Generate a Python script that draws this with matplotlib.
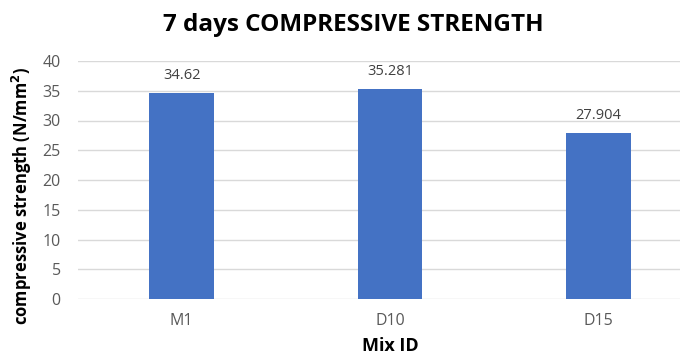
import matplotlib.pyplot as plt
import numpy as np

mixes = ["M1", "D10", "D15"]
strength = [34.62, 35.281, 27.904]
label_texts = ["34.62", "35.281", "27.904"]
yticks = [0, 5, 10, 15, 20, 25, 30, 35, 40]

plt.rcParams["font.family"] = ["Open Sans", "DejaVu Sans"]

fig = plt.figure(figsize=(6.8, 3.56), dpi=100)
# plot area runs past the right edge, like the cropped original
ax = fig.add_axes([77.5 / 680, 57 / 356, 625 / 680, 238 / 356])

x = np.arange(len(mixes))
ax.bar(x, strength, width=0.31, color="#4472C4", zorder=3)
for xi, v, t in zip(x, strength, label_texts):
    ax.annotate(t, (xi, v), xytext=(0, 7), textcoords="offset points",
                ha="center", va="bottom", fontsize=10.5, color="#404040")

ax.set_xlim(-0.5, 2.5)
ax.set_ylim(0, 40)
ax.set_yticks(yticks)
ax.set_xticks(x)
ax.set_xticklabels(mixes)
ax.grid(axis="y", color="#d9d9d9", linewidth=1, zorder=0)
for s in ax.spines.values():
    s.set_visible(False)
ax.tick_params(axis="both", length=0, labelsize=11.5, colors="#595959")
ax.tick_params(axis="y", pad=12)
ax.tick_params(axis="x", pad=10)

fig.text(22 / 680, 1 - 196 / 356, "compressive strength (N/mm$^\\mathbf{2}$)",
         rotation=90, ha="center", va="center", fontsize=12, fontweight="bold")
fig.text(390 / 680, 1 - 346 / 356, "Mix ID", ha="center", va="center",
         fontsize=13, fontweight="bold")
fig.text(353 / 680, 1 - 25 / 356, "7 days COMPRESSIVE STRENGTH", ha="center",
         va="center", fontsize=17.5, fontweight="bold")

fig.savefig("out.png", dpi=100)
